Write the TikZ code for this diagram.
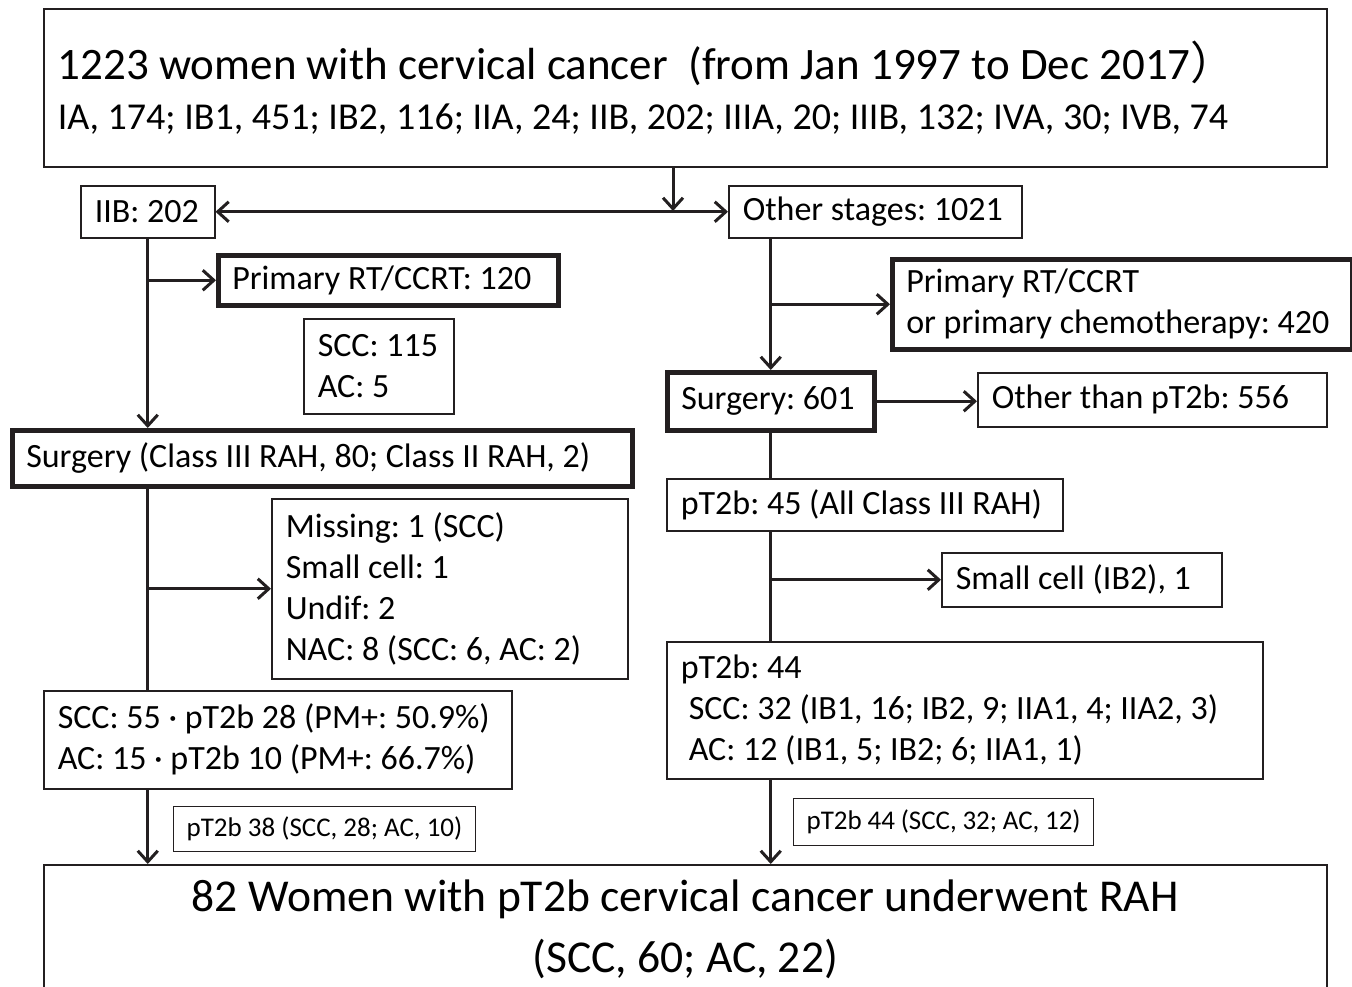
\documentclass[tikz,border=0pt]{standalone}
\usepackage{fontspec}
\setmainfont{Carlito}
\newfontfamily\cjk{Noto Sans CJK SC}
\usetikzlibrary{arrows.meta}
\definecolor{ink}{RGB}{35,31,32}
\tikzstyle{box}=[draw=ink, line width=1.5pt, anchor=north west, inner xsep=14pt, inner ysep=0pt, align=flush left, execute at begin node=\frenchspacing, font=\fontsize{34}{41}\selectfont]
\tikzstyle{thick box}=[box, line width=4.5pt]
\tikzstyle{note}=[box, line width=1.3pt, inner xsep=13pt, font=\fontsize{27}{32}\selectfont]
\tikzstyle{trunk}=[draw=ink, line width=3pt]
\tikzstyle{flow}=[trunk, -{Straight Barb[length=11pt, width=20pt]}]

\begin{document}
\begin{tikzpicture}[x=1pt, y=-1pt]
  \clip (0, 0) rectangle (1352, 986);
  \fill[white] (0, 0) rectangle (1352, 986);

  % all women
  \node[box, text width=1255pt, minimum height=158pt, font=\fontsize{38}{50}\selectfont] (top) at (43, 8)
    {{\fontsize{45}{54}\selectfont 1223 women with cervical cancer\ \ (from Jan 1997 to Dec 2017{\cjk ）}}\\
     IA, 174; IB1, 451; IB2, 116; IIA, 24; IIB, 202; IIIA, 20; IIIB, 132; IVA, 30; IVB, 74};
  \coordinate (split) at (673, 211);

  % stage IIB branch
  \node[box, text width=106pt, minimum height=52pt] (iib) at (80, 185) {IIB: 202};
  \node[thick box, text width=312pt, minimum height=50pt] (rt_l) at (216, 253) {Primary RT/CCRT: 120};
  \node[box, text width=122pt, minimum height=95pt] (hist_l) at (303, 318) {SCC: 115\\AC: 5};
  \node[thick box, text width=592pt, minimum height=56pt] (surg_l) at (10, 428)
    {Surgery (Class III RAH, 80; Class II RAH, 2)};
  \node[box, text width=328pt, minimum height=180pt] (excl_l) at (271, 498)
    {Missing: 1 (SCC)\\Small cell: 1\\Undif: 2\\NAC: 8 (SCC: 6, AC: 2)};
  \node[box, text width=440pt, minimum height=98pt] (res_l) at (43, 690)
    {SCC: 55 · pT2b 28 (PM+: 50.9\%)\\AC: 15 · pT2b 10 (PM+: 66.7\%)};
  \node[note, text width=276pt, minimum height=45pt] (note_l) at (173, 806) {pT2b 38 (SCC, 28; AC, 10)};

  % other stages branch
  \node[box, text width=265pt, minimum height=52pt] (others) at (728, 185) {Other stages: 1021};
  \node[thick box, text width=432pt, minimum height=90pt] (rt_r) at (890, 257)
    {Primary RT/CCRT\\or primary chemotherapy: 420};
  \node[thick box, text width=179pt, minimum height=58pt] (surg_r) at (665, 370) {Surgery: 601};
  \node[box, text width=321pt, minimum height=54pt] (rest_r) at (977, 372) {Other than pT2b: 556};
  \node[box, text width=368pt, minimum height=52pt] (pt_r) at (666, 478) {pT2b: 45 (All Class III RAH)};
  \node[box, text width=252pt, minimum height=54pt] (small_r) at (941, 552) {Small cell (IB2), 1};
  \node[box, text width=568pt, minimum height=137pt] (res_r) at (666, 641)
    {pT2b: 44\\
     \hspace*{8pt}SCC: 32 (IB1, 16; IB2, 9; IIA1, 4; IIA2, 3)\\
     \hspace*{8pt}AC: 12 (IB1, 5; IB2; 6; IIA1, 1)};
  \node[note, text width=274pt, minimum height=47pt] (note_r) at (793, 798) {pT2b 44 (SCC, 32; AC, 12)};

  % study group
  \node[box, text width=1255pt, minimum height=130pt, align=flush center, font=\fontsize{45.6}{61}\selectfont] (final) at (43, 864)
    {82 Women with pT2b cervical cancer underwent RAH\\(SCC, 60; AC, 22)};

  % connectors
  \draw[flow] (split |- top.south) -- (split);
  \draw[trunk, {Straight Barb[length=11pt, width=20pt]}-{Straight Barb[length=11pt, width=20pt]}] (iib.east) -- (iib.east -| others.west);

  \draw[flow] (iib.south) -- (iib.south |- surg_l.north);
  \draw[flow] (iib.south |- rt_l.west) -- (rt_l.west);
  \draw[trunk] (iib.south |- surg_l.south) -- (iib.south |- res_l.north);
  \draw[flow] (iib.south |- excl_l.west) -- (excl_l.west);
  \draw[flow] (iib.south |- res_l.south) -- (iib.south |- final.north);

  \draw[flow] (surg_r.north |- others.south) -- (surg_r.north);
  \draw[flow] (surg_r.north |- rt_r.west) -- (rt_r.west);
  \draw[flow] (surg_r.east) -- (surg_r.east -| rest_r.west);
  \draw[trunk] (surg_r.south) -- (surg_r.south |- pt_r.north);
  \draw[trunk] (surg_r.south |- pt_r.south) -- (surg_r.south |- res_r.north);
  \draw[flow] (surg_r.south |- small_r.west) -- (small_r.west);
  \draw[flow] (surg_r.south |- res_r.south) -- (surg_r.south |- final.north);
\end{tikzpicture}
\end{document}
